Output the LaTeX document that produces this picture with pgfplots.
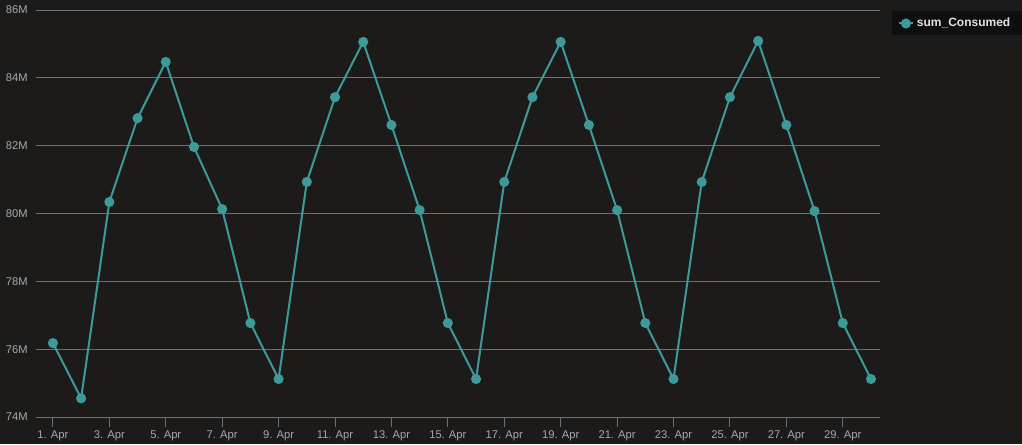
\documentclass[border=0pt]{standalone}
\usepackage{pgfplots}
\pgfplotsset{compat=1.18}
\usepackage{fontspec}
\setmainfont{Liberation Sans}

\definecolor{bg}{HTML}{1C1B1A}
\definecolor{teal}{HTML}{3E9A9A}
\definecolor{gridc}{HTML}{6E6E6E}
\definecolor{tickc}{HTML}{A8A8A8}
\definecolor{legbg}{HTML}{0F0F0F}
\definecolor{legtext}{HTML}{E2E2E2}

\begin{document}
\begin{tikzpicture}
% whole page, 1022x444 px at 0.75pt per px
\useasboundingbox (0,0) rectangle (766.5pt,333pt);
\fill[bg] (0,0) rectangle (766.5pt,333pt);
\begin{axis}[
    at={(27pt,20.25pt)}, anchor=south west,
    scale only axis,
    width=633pt, height=305.25pt,
    xmin=0.4, xmax=30.32,
    ymin=74, ymax=86,
    axis x line=bottom,
    axis y line=left,
    x axis line style={gridc, line width=0.75pt, -},
    y axis line style={draw=none},
    xtick={1,3,...,29},
    xticklabels={1. Apr,3. Apr,5. Apr,7. Apr,9. Apr,11. Apr,13. Apr,15. Apr,17. Apr,19. Apr,21. Apr,23. Apr,25. Apr,27. Apr,29. Apr},
    ytick={74,76,...,86},
    yticklabel={\pgfmathprintnumber{\tick}M},
    ymajorgrids=true,
    grid style={gridc, line width=0.75pt},
    x tick style={gridc, line width=0.75pt},
    major tick length=7.5pt,
    xtick align=outside,
    y tick style={draw=none},
    tick label style={text=tickc, font=\fontsize{8.4}{10}\selectfont},
    xticklabel style={yshift=1pt},
    yticklabel style={xshift=1pt},
    /pgf/number format/assume math mode=true,
    clip=false,
    legend style={at={(1,1)}, anchor=north west, xshift=9pt, yshift=-0.9pt,
        fill=legbg, draw=none, text=legtext,
        font=\bfseries\fontsize{9}{11}\selectfont,
        inner xsep=4pt, inner ysep=3pt},
    legend cell align=left,
    legend image code/.code={
        \draw[mark repeat=2, mark phase=2, #1] plot coordinates {(0pt,0pt) (5.5pt,0pt) (11pt,0pt)};
    },
]
\addplot[color=teal, line width=1.5pt, mark=*, mark size=3pt, mark options={fill=teal, draw=none}]
coordinates {
(1,76.18) (2,74.55) (3,80.34) (4,82.81) (5,84.47) (6,81.96) (7,80.13) (8,76.77) (9,75.12) (10,80.93)
(11,83.43) (12,85.06) (13,82.61) (14,80.10) (15,76.77) (16,75.12) (17,80.93) (18,83.43) (19,85.06) (20,82.61)
(21,80.10) (22,76.77) (23,75.12) (24,80.93) (25,83.43) (26,85.09) (27,82.61) (28,80.07) (29,76.77) (30,75.12)
};
\addlegendentry{\makebox[80pt][l]{sum\_Consumed}}
\end{axis}
\end{tikzpicture}
\end{document}
